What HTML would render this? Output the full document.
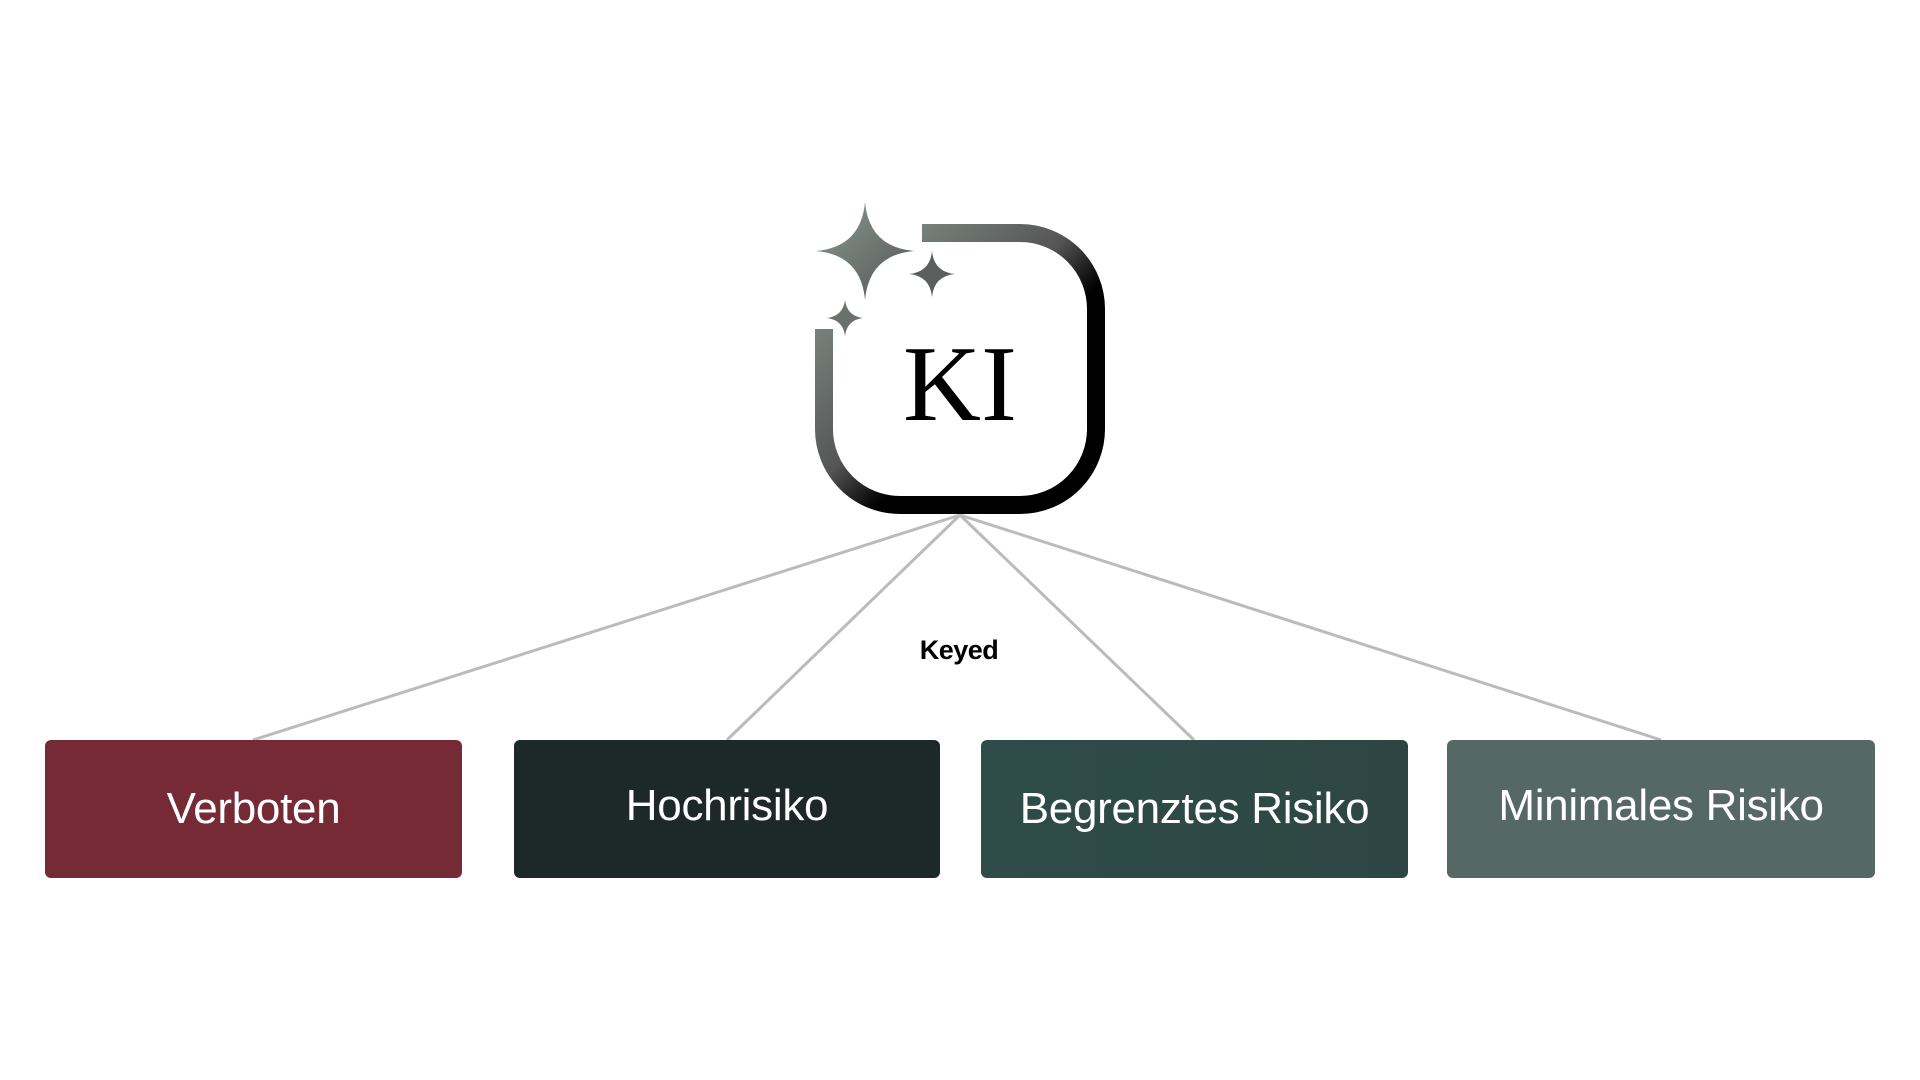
<!DOCTYPE html>
<html><head><meta charset="utf-8"><style>
html,body{margin:0;padding:0;background:#fff;width:1920px;height:1080px;overflow:hidden}
.box{position:absolute;top:740px;height:138px;border-radius:6px;color:#fff;font-family:"Liberation Sans",sans-serif;font-size:44px;display:flex;align-items:center;justify-content:center;letter-spacing:-0.3px}
</style></head><body>
<svg width="1920" height="1080" style="position:absolute;left:0;top:0">
<defs>
<linearGradient id="g" x1="0" y1="0" x2="1" y2="1">
<stop offset="0" stop-color="#8a9a92"/><stop offset="0.45" stop-color="#555"/><stop offset="0.6" stop-color="#000"/><stop offset="1" stop-color="#000"/>
</linearGradient>
<linearGradient id="s" x1="0" y1="0" x2="1" y2="1">
<stop offset="0" stop-color="#8a9a92"/><stop offset="1" stop-color="#555"/>
</linearGradient>
</defs>
<g stroke="#bbb" stroke-width="3" fill="none">
<line x1="960" y1="515" x2="253" y2="740"/>
<line x1="960" y1="515" x2="727" y2="740"/>
<line x1="960" y1="515" x2="1194" y2="740"/>
<line x1="960" y1="515" x2="1661" y2="740"/>
</g>
<path d="M922 233 H1020 A76 76 0 0 1 1096 309 V429 A76 76 0 0 1 1020 505 H900 A76 76 0 0 1 824 429 V329" fill="none" stroke="url(#g)" stroke-width="18" stroke-linecap="butt"/>
<path d="M865 202 Q869 247 914 251 Q869 255 865 300 Q861 255 816 251 Q861 247 865 202Z" fill="url(#s)"/>
<path d="M932 251 Q934 272 955 274 Q934 276 932 297 Q930 276 909 274 Q930 272 932 251Z" fill="#5a5e5c"/>
<path d="M845 300 Q847 316 863 318 Q847 320 845 336 Q843 320 827 318 Q843 316 845 300Z" fill="#6a716d"/>
<text x="960" y="420" text-anchor="middle" font-family="Liberation Serif,serif" font-size="108">KI</text>
<text x="959" y="659" text-anchor="middle" font-family="Liberation Sans,sans-serif" font-size="27" font-weight="bold" letter-spacing="-0.5">Keyed</text>
</svg>
<div class="box" style="left:45px;width:417px;background:#752a36">Verboten</div>
<div class="box" style="left:514px;width:426px;background:#1d2926;padding-bottom:6px;box-sizing:border-box">Hochrisiko</div>
<div class="box" style="left:981px;width:427px;background:linear-gradient(90deg,#2f4c48,#2e4643)">Begrenztes Risiko</div>
<div class="box" style="left:1447px;width:428px;background:#566864;padding-bottom:6px;box-sizing:border-box">Minimales Risiko</div>
</body></html>
